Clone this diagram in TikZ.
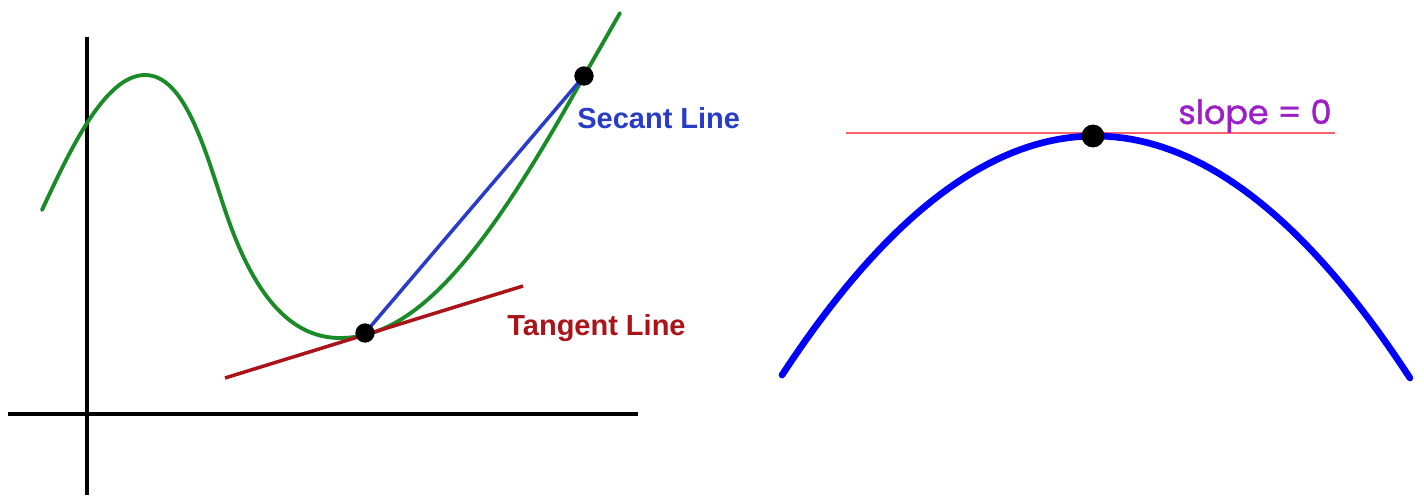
\documentclass[tikz,border=0pt]{standalone}
\usepackage{fontspec}
\setmainfont{Liberation Sans}
\newfontfamily\handfont[FakeBold=1.2]{Poppins}
\begin{document}
\begin{tikzpicture}[x=0.02cm,y=-0.02cm]
\definecolor{curvegreen}{RGB}{25,140,40}
\definecolor{secblue}{RGB}{40,60,200}
\definecolor{tanred}{RGB}{170,20,25}
\definecolor{pinkline}{RGB}{255,100,110}
\definecolor{parblue}{RGB}{0,0,255}
\definecolor{slopepurple}{RGB}{155,30,200}
\tikzset{
  axisline/.style={black,line width=2pt},
  dotnode/.style={circle,fill=black,inner sep=0pt,minimum size=#1},
  dotnode/.default=11pt,
  lbl/.style={font=\bfseries\fontsize{16.5}{18}\selectfont,inner sep=0pt},
}
\useasboundingbox (0,0) rectangle (1424,495);
% axes
\coordinate (ya) at (87,37);
\coordinate (yb) at (87,495);
\coordinate (xa) at (8,414);
\coordinate (xb) at (638,414);
\draw[axisline] (ya) -- (yb);
\draw[axisline] (xa) -- (xb);
% green curve
\coordinate (g0) at (42,210);
\coordinate (gmax) at (145,75);
\coordinate (ginf) at (225,210);
\coordinate (gmin) at (340,338);
\coordinate (gend) at (620,13);
\draw[curvegreen,line width=2.2pt,line cap=round]
  (g0) .. controls (70,150) and (105,75) .. (gmax)
       .. controls (185,75) and (205,150) .. (ginf)
       .. controls (250,285) and (285,338) .. (gmin)
       .. controls (420,338) and (490,245) .. (584,76)
       -- (gend);
% points
\coordinate (p1c) at (365,333);
\coordinate (p2c) at (584,76);
% tangent
\coordinate (t1) at (225,378);
\coordinate (t2) at (523,286);
\draw[tanred,line width=2pt] (t1) -- (t2);
% secant
\draw[secblue,line width=2pt] (p1c) -- (p2c);
\node[dotnode] (p1) at (p1c) {};
\node[dotnode] (p2) at (p2c) {};
% labels
\node[lbl,text=secblue,anchor=west] (sec) at (577,118) {Secant Line};
\node[lbl,text=tanred,anchor=west] (tan) at (507,328) {Tangent Line};
% right panel
\coordinate (h1) at (846,133);
\coordinate (h2) at (1335,133);
\draw[pinkline,line width=1.3pt] (h1) -- (h2);
\draw[parblue,line width=3.8pt,line cap=round] plot[domain=-3.13:3.15,samples=80] ({1095+100*\x},{136+24.4*\x*\x});
\node[dotnode=13pt] (top) at (1093,136) {};
\node[text=slopepurple,font=\handfont\fontsize{19}{22}\selectfont,inner sep=0pt,anchor=base west] (slope) at (1178,124) {slope = 0};
\end{tikzpicture}
\end{document}
